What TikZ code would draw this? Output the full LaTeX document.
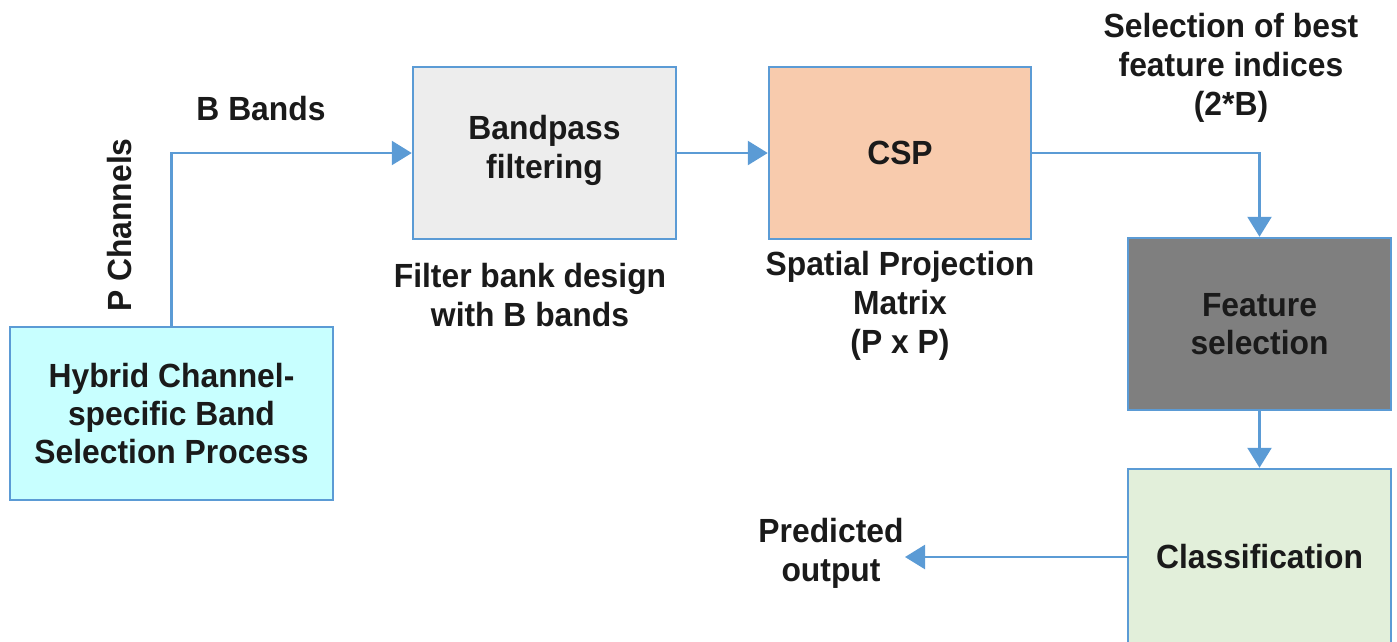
\documentclass[tikz,border=0pt]{standalone}
\usepackage{fontspec}
\setmainfont{Liberation Sans}[FakeStretch=0.95]
\usetikzlibrary{arrows.meta}
\definecolor{edge}{HTML}{5B9BD5}
\definecolor{txt}{HTML}{1A1A1A}
\definecolor{cyanfill}{HTML}{C8FFFF}
\definecolor{grayfill}{HTML}{EDEDED}
\definecolor{peach}{HTML}{F8CBAD}
\definecolor{darkfill}{HTML}{7F7F7F}
\definecolor{greenfill}{HTML}{E2EFDA}
\tikzset{
  box/.style={draw=edge, line width=2.5pt, rectangle, inner sep=0pt, align=center,
    text=txt, font=\fontsize{33.5}{38}\selectfont\bfseries},
  lbl/.style={inner sep=0pt, align=center, text=txt, font=\fontsize{33.5}{39}\selectfont\bfseries},
  conn/.style={draw=edge, line width=2.5pt, -{Triangle[length=20pt,width=24pt]}}
}
\begin{document}
\begin{tikzpicture}[x=1pt,y=-1pt]
\useasboundingbox (0,0) rectangle (1397,641);
\node[box, fill=cyanfill, minimum width=323pt, minimum height=173pt] (hyb) at (171.5,413.5)
  {Hybrid Channel-\\specific Band\\Selection Process};
\node[box, fill=grayfill, minimum width=263pt, minimum height=172pt] (bp) at (544.5,153) {};
\node[lbl] (bpt) at (544.5,150) {Bandpass\\filtering};
\node[box, fill=peach, minimum width=262pt, minimum height=172pt] (csp) at (900,153) {CSP};
\node[box, fill=darkfill, minimum width=263pt, minimum height=172pt] (fs) at (1259.5,324)
  {Feature\\selection};
\node[box, fill=greenfill, minimum width=263pt, minimum height=176pt] (cl) at (1259.5,557)
  {Classification};
\coordinate (po) at (905,557);
\node[lbl] (bb) at (261,109) {B Bands};
\node[lbl, rotate=90] (pc) at (120,225) {P Channels};
\node[lbl] (fb) at (530,295) {Filter bank design\\with B bands};
\node[lbl] (sp) at (900,306) {Spatial Projection\\Matrix\\(P x P)};
\node[lbl] (sel) at (1231,68) {Selection of best\\feature indices\\(2*B)};
\node[lbl] (pred) at (831,553) {Predicted\\output};
\draw[conn] (hyb.north) |- (bp.west);
\draw[conn] (bp.east) -- (csp.west);
\draw[conn] (csp.east) -| (fs.north);
\draw[conn] (fs.south) -- (cl.north);
\draw[conn] (cl.west) -- (po);
\end{tikzpicture}
\end{document}
